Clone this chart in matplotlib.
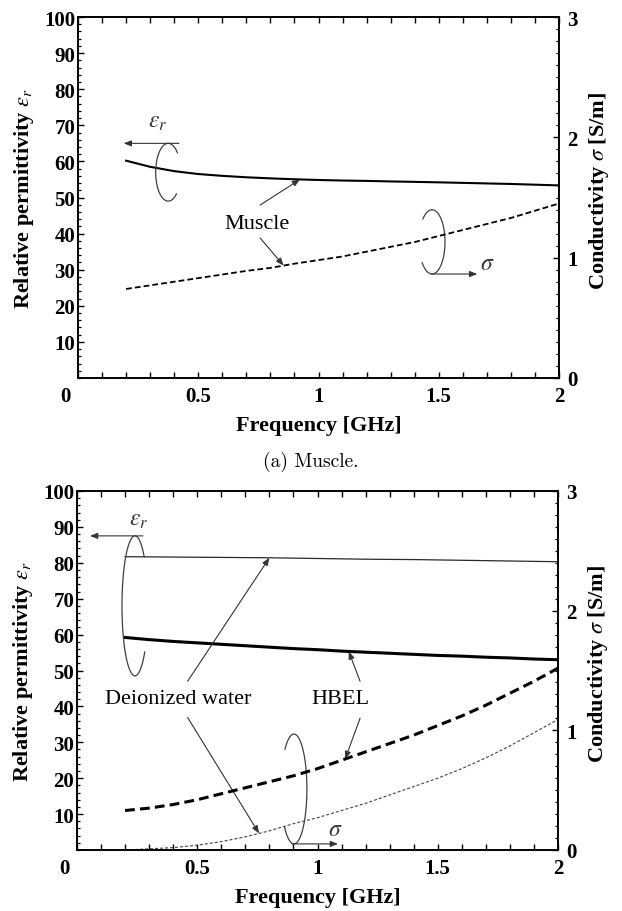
import numpy as np
import matplotlib
matplotlib.use("Agg")
import matplotlib.pyplot as plt
import matplotlib.transforms as mtransforms
from matplotlib.font_manager import FontProperties
from matplotlib.ticker import MultipleLocator, FixedLocator, FixedFormatter

plt.rcParams['font.family'] = ['Liberation Serif', 'DejaVu Serif']
plt.rcParams['mathtext.fontset'] = 'stix'

# ---- data -------------------------------------------------------------
freq = [0.2, 0.3, 0.4, 0.5, 0.6, 0.7, 0.8, 0.9, 1.0, 1.1,
        1.2, 1.3, 1.4, 1.5, 1.6, 1.7, 1.8, 1.9, 2.0]

muscle_eps = [60.2, 58.5, 57.3, 56.5, 56.0, 55.6, 55.3, 55.05, 54.85, 54.7,
              54.6, 54.45, 54.33, 54.2, 54.05, 53.9, 53.75, 53.55, 53.35]
muscle_sigma = [0.74, 0.77, 0.80, 0.83, 0.86, 0.89, 0.915, 0.95, 0.98, 1.01,
                1.05, 1.09, 1.13, 1.18, 1.23, 1.28, 1.33, 1.39, 1.45]

water_eps = [81.7, 81.65, 81.6, 81.55, 81.5, 81.45, 81.4, 81.3, 81.2, 81.1,
             81.0, 80.95, 80.9, 80.8, 80.7, 80.6, 80.5, 80.4, 80.3]
water_sigma = [0.0, 0.01, 0.02, 0.04, 0.07, 0.11, 0.16, 0.22, 0.27, 0.33,
               0.39, 0.46, 0.53, 0.60, 0.68, 0.77, 0.87, 0.98, 1.09]

hbel_eps = [59.2, 58.6, 58.1, 57.7, 57.3, 56.9, 56.5, 56.1, 55.8, 55.4,
            55.1, 54.8, 54.5, 54.2, 54.0, 53.7, 53.5, 53.2, 53.0]
hbel_sigma = [0.33, 0.35, 0.38, 0.42, 0.47, 0.52, 0.57, 0.62, 0.68, 0.75,
              0.82, 0.89, 0.96, 1.04, 1.12, 1.21, 1.31, 1.41, 1.52]

x_ticks = [0, 0.5, 1, 1.5, 2]
x_tick_labels = ['0', '0.5', '1', '1.5', '2']
eps_ticks = [10, 20, 30, 40, 50, 60, 70, 80, 90, 100]
sigma_ticks = [0, 1, 2, 3]

TICK_FONT = dict(family='Liberation Serif', weight='bold', size=15)
LABEL_FONT = dict(family='Liberation Serif', weight='bold', size=16)
NOTE_FONT = dict(family='Liberation Serif', size=16)
NOTE_GRAY = '#333333'

fig = plt.figure(figsize=(6.22, 9.12), dpi=100)
W, H = 622.0, 912.0


def make_axes(left, top, right, bottom):
    ax = fig.add_axes([left / W, 1 - bottom / H, (right - left) / W, (bottom - top) / H])
    ax2 = ax.twinx()
    ax.set_xlim(0, 2)
    ax.set_ylim(0, 100)
    ax2.set_ylim(0, 3)

    ax.xaxis.set_major_locator(FixedLocator(x_ticks))
    ax.xaxis.set_major_formatter(FixedFormatter(x_tick_labels))
    ax.xaxis.set_minor_locator(MultipleLocator(0.1))
    ax.yaxis.set_major_locator(FixedLocator(eps_ticks))
    ax.yaxis.set_minor_locator(MultipleLocator(2))
    ax2.yaxis.set_major_locator(FixedLocator(sigma_ticks))
    ax2.yaxis.set_minor_locator(MultipleLocator(0.1))

    ax.tick_params(axis='x', which='both', direction='in', top=True, bottom=True,
                   length=4, width=1.0, pad=6)
    ax.tick_params(axis='y', which='major', direction='in', left=True, right=False,
                   length=4.5, width=1.0, pad=2)
    ax.tick_params(axis='y', which='minor', direction='in', left=True, right=False,
                   length=2.5, width=0.9)
    ax2.tick_params(axis='y', which='major', direction='in', length=4.5, width=1.0, pad=6)
    ax2.tick_params(axis='y', which='minor', direction='in', length=2.5, width=0.9)

    fp = FontProperties(**TICK_FONT)
    for lbl in ax.get_xticklabels() + ax.get_yticklabels() + ax2.get_yticklabels():
        lbl.set_fontproperties(fp)

    for a in (ax, ax2):
        for s in a.spines.values():
            s.set_linewidth(1.2)

    # the "0" of the frequency axis sits a little left of the corner
    zero_lbl = ax.xaxis.get_major_ticks()[0].label1
    zero_lbl.set_transform(zero_lbl.get_transform() +
                           mtransforms.ScaledTranslation(-12.5 / 100, 0, fig.dpi_scale_trans))

    ax.set_xlabel('Frequency [GHz]', va='center', **LABEL_FONT)
    ax.xaxis.set_label_coords(0.5, -0.13)
    ax.set_ylabel(r'Relative permittivity $\varepsilon_r$', va='center', **LABEL_FONT)
    ax.yaxis.set_label_coords(-0.112, 0.5)
    ax2.set_ylabel(r'Conductivity $\sigma$ [S/m]', va='center', rotation=90, **LABEL_FONT)
    ax2.yaxis.set_label_coords(1.083, 0.52)
    return ax, ax2


def loop(ax, cx, cy, rx, ry, t1, t2):
    t = np.deg2rad(np.linspace(t1, t2, 200))
    ax.plot(cx + rx * np.cos(t), cy + ry * np.sin(t), color='#404040', lw=0.9,
            solid_capstyle='round')


def arrow(ax, start, end, end_coords='data'):
    ax.annotate('', xy=end, xycoords=end_coords, xytext=start, textcoords='data',
                arrowprops=dict(arrowstyle='-|>,head_length=0.5,head_width=0.2',
                                mutation_scale=9, color=NOTE_GRAY, lw=0.8,
                                shrinkA=0, shrinkB=0))


# ---- (a) muscle -------------------------------------------------------
ax1, ax1s = make_axes(78, 18, 559, 379)
ax1.plot(freq, muscle_eps, color='black', lw=1.5)
ax1s.plot(freq, muscle_sigma, color='black', lw=1.3, dashes=(3.2, 1.7))

loop(ax1, 0.375, 57.0, 0.052, 8.0, 42, 312)
arrow(ax1, (0.42, 65.0), (0.19, 65.0))
ax1.text(0.33, 71, r'$\varepsilon_r$', ha='center', va='center', fontsize=17, color=NOTE_GRAY)

loop(ax1, 1.472, 37.7, 0.054, 8.9, -140, 135)
arrow(ax1, (1.47, 28.8), (1.66, 28.8))
ax1.text(1.70, 31.6, r'$\sigma$', ha='center', va='center', fontsize=17, color=NOTE_GRAY)

ax1.text(0.744, 42.7, 'Muscle', ha='center', va='center', **NOTE_FONT)
arrow(ax1, (0.757, 47.9), (0.923, float(np.interp(0.923, freq, muscle_eps))))
arrow(ax1, (0.757, 38.8), (0.855, float(np.interp(0.855, freq, muscle_sigma))),
      end_coords=ax1s.transData)

fig.text(311 / W, 1 - 462 / H, '(a) Muscle.', family='cmr10', fontsize=14,
         ha='center', va='center')

# ---- (b) HBEL and deionized water -------------------------------------
ax2, ax2s = make_axes(77, 492, 558, 851)
ax2.plot(freq, water_eps, color='#2a2a2a', lw=0.9)
ax2.plot(freq, hbel_eps, color='black', lw=2.2)
ax2s.plot(freq, hbel_sigma, color='black', lw=2.2, dashes=(3.2, 1.7))
ax2s.plot(freq, water_sigma, color='#444444', lw=0.8, dashes=(2.7, 1.8))

loop(ax2, 0.241, 68.0, 0.054, 19.5, 44, 319)
arrow(ax2, (0.274, 87.5), (0.054, 87.5))
ax2.text(0.255, 92.2, r'$\varepsilon_r$', ha='center', va='center', fontsize=17, color=NOTE_GRAY)

loop(ax2, 0.902, 17.0, 0.054, 15.3, -136, 134)
arrow(ax2, (0.894, 1.7), (1.085, 1.7))
ax2.text(1.075, 5.6, r'$\sigma$', ha='center', va='center', fontsize=17, color=NOTE_GRAY)

ax2.text(0.42, 42.3, 'Deionized water', ha='center', va='center', **NOTE_FONT)
ax2.text(1.094, 42.3, 'HBEL', ha='center', va='center', **NOTE_FONT)
arrow(ax2, (0.46, 47.0), (0.80, float(np.interp(0.80, freq, water_eps))))
arrow(ax2, (0.46, 36.9), (0.757, float(np.interp(0.757, freq, water_sigma))),
      end_coords=ax2s.transData)
arrow(ax2, (1.177, 47.0), (1.13, float(np.interp(1.13, freq, hbel_eps))))
arrow(ax2, (1.177, 36.7), (1.115, float(np.interp(1.115, freq, hbel_sigma))),
      end_coords=ax2s.transData)

fig.savefig('out.png', dpi=100)
